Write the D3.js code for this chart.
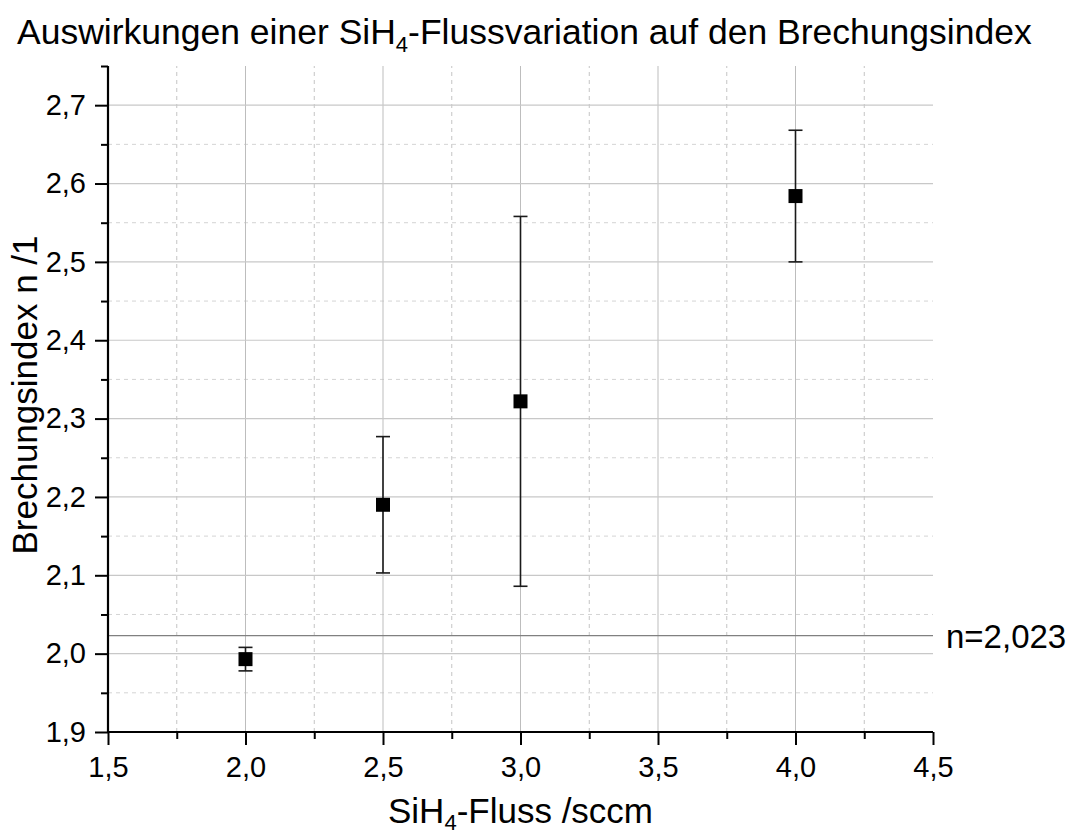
<!DOCTYPE html>
<meta charset="utf-8">
<html>
<head>
  <title>SiH4-Flussvariation</title>
  <style>
    body { margin: 0; background: #fff; }
    svg { display: block; font-family: "Liberation Sans", Arial, sans-serif; }
    .axis path, .axis line { stroke: #000; }
  </style>
</head>
<body>
<svg id="chart" width="1075" height="837"></svg>

<script src="https://d3js.org/d3.v7.min.js"></script>
<script>

// SiH4 flow (sccm), measured refractive index and its deviation
const flow = [2.0, 2.5, 3.0, 4.0];
const nMean = [1.993, 2.190, 2.322, 2.584];
const nErr = [0.015, 0.087, 0.236, 0.084];

// reference value of stoichiometric Si3N4
const nRef = 2.023;

const xMajor = [1.5, 2.0, 2.5, 3.0, 3.5, 4.0, 4.5];
const xMinor = [1.75, 2.25, 2.75, 3.25, 3.75, 4.25];
const yMajor = [1.9, 2.0, 2.1, 2.2, 2.3, 2.4, 2.5, 2.6, 2.7];
const yMinor = [1.95, 2.05, 2.15, 2.25, 2.35, 2.45, 2.55, 2.65, 2.75];

const de = d3.formatLocale({ decimal: ",", thousands: ".", grouping: [3], currency: ["", " €"] });
const fmt1 = de.format(".1f");
const fmt3 = de.format(".3f");

const svg = d3.select("#chart");

const x = d3.scaleLinear().domain([1.5, 4.5]).range([108, 933]);
const y = d3.scaleLinear().domain([1.9, 2.75]).range([732, 66]);

// --- grid ---
const grid = svg.append("g");

grid.selectAll("line.vminor")
  .data(xMinor)
  .join("line")
  .attr("x1", d => x(d)).attr("x2", d => x(d))
  .attr("y1", y(1.9)).attr("y2", y(2.75))
  .attr("stroke", "#c4c4c4")
  .attr("stroke-dasharray", "4,4");

grid.selectAll("line.hminor")
  .data(yMinor.filter(d => d < 2.75))
  .join("line")
  .attr("x1", x(1.5)).attr("x2", x(4.5))
  .attr("y1", d => y(d)).attr("y2", d => y(d))
  .attr("stroke", "#d4d4d4")
  .attr("stroke-dasharray", "4,4");

grid.selectAll("line.vmajor")
  .data(xMajor.slice(1, -1))
  .join("line")
  .attr("x1", d => x(d)).attr("x2", d => x(d))
  .attr("y1", y(1.9)).attr("y2", y(2.75))
  .attr("stroke", "#bdbdbd");

grid.selectAll("line.hmajor")
  .data(yMajor.slice(1))
  .join("line")
  .attr("x1", x(1.5)).attr("x2", x(4.5))
  .attr("y1", d => y(d)).attr("y2", d => y(d))
  .attr("stroke", "#c8c8c8")
  .attr("stroke-width", 1.2);

// reference line
svg.append("line")
  .attr("x1", x(1.5)).attr("x2", x(4.5))
  .attr("y1", y(nRef)).attr("y2", y(nRef))
  .attr("stroke", "#808080")
  .attr("stroke-width", 1.2);

svg.append("text")
  .attr("x", 946)
  .attr("y", y(nRef) + 12)
  .attr("font-size", 33)
  .text("n=" + fmt3(nRef));

// --- axes ---
const xAxis = svg.append("g")
  .attr("class", "axis")
  .attr("transform", `translate(0,${y(1.9)})`)
  .call(d3.axisBottom(x).tickValues(xMajor).tickFormat(fmt1).tickSize(13).tickPadding(11));

svg.append("g")
  .attr("class", "axis")
  .attr("transform", `translate(0,${y(1.9)})`)
  .call(d3.axisBottom(x).tickValues(xMinor).tickFormat("").tickSize(7))
  .select(".domain").remove();

const yAxis = svg.append("g")
  .attr("class", "axis")
  .attr("transform", `translate(${x(1.5)},0)`)
  .call(d3.axisLeft(y).tickValues(yMajor).tickFormat(fmt1).tickSize(13).tickPadding(9));

svg.append("g")
  .attr("class", "axis")
  .attr("transform", `translate(${x(1.5)},0)`)
  .call(d3.axisLeft(y).tickValues(yMinor).tickFormat("").tickSize(7))
  .select(".domain").remove();

svg.selectAll(".axis .domain").attr("stroke-width", 2.2);
svg.selectAll(".axis line").attr("stroke-width", 2);
xAxis.selectAll(".domain").attr("d", `M${x(1.5)},0H${x(4.5)}`);
yAxis.selectAll(".domain").attr("d", `M0,${y(1.9)}V${y(2.75)}`);

svg.selectAll(".axis text")
  .attr("font-size", 29)
  .attr("font-family", "Liberation Sans, Arial, sans-serif")
  .attr("fill", "#000");

// --- error bars and markers ---
const pts = flow.map((f, i) => ({ f: f, n: nMean[i], e: nErr[i] }));

const bars = svg.append("g")
  .attr("stroke", "#1a1a1a")
  .attr("stroke-width", 1.6);

bars.selectAll("line.stem")
  .data(pts)
  .join("line")
  .attr("x1", d => x(d.f)).attr("x2", d => x(d.f))
  .attr("y1", d => y(d.n - d.e)).attr("y2", d => y(d.n + d.e));

bars.selectAll("line.capTop")
  .data(pts)
  .join("line")
  .attr("x1", d => x(d.f) - 7).attr("x2", d => x(d.f) + 7)
  .attr("y1", d => y(d.n + d.e)).attr("y2", d => y(d.n + d.e));

bars.selectAll("line.capBot")
  .data(pts)
  .join("line")
  .attr("x1", d => x(d.f) - 7).attr("x2", d => x(d.f) + 7)
  .attr("y1", d => y(d.n - d.e)).attr("y2", d => y(d.n - d.e));

svg.append("g")
  .selectAll("rect")
  .data(pts)
  .join("rect")
  .attr("x", d => x(d.f) - 7)
  .attr("y", d => y(d.n) - 7)
  .attr("width", 14)
  .attr("height", 14)
  .attr("fill", "#000");

// --- titles ---
const title = svg.append("text")
  .attr("x", 17)
  .attr("y", 44)
  .attr("font-size", 35.5);
title.append("tspan").text("Auswirkungen einer SiH");
title.append("tspan").attr("font-size", 22).attr("dy", 8).text("4");
title.append("tspan").attr("dy", -8).text("-Flussvariation auf den Brechungsindex");

const xLabel = svg.append("text")
  .attr("x", (x(1.5) + x(4.5)) / 2)
  .attr("y", 823)
  .attr("text-anchor", "middle")
  .attr("font-size", 35);
xLabel.append("tspan").text("SiH");
xLabel.append("tspan").attr("font-size", 22).attr("dy", 7).text("4");
xLabel.append("tspan").attr("dy", -7).text("-Fluss /sccm");

svg.append("text")
  .attr("transform", `translate(37,${(y(1.9) + y(2.75)) / 2 - 4}) rotate(-90)`)
  .attr("text-anchor", "middle")
  .attr("font-size", 35)
  .text("Brechungsindex n /1");

</script>
</body>
</html>
